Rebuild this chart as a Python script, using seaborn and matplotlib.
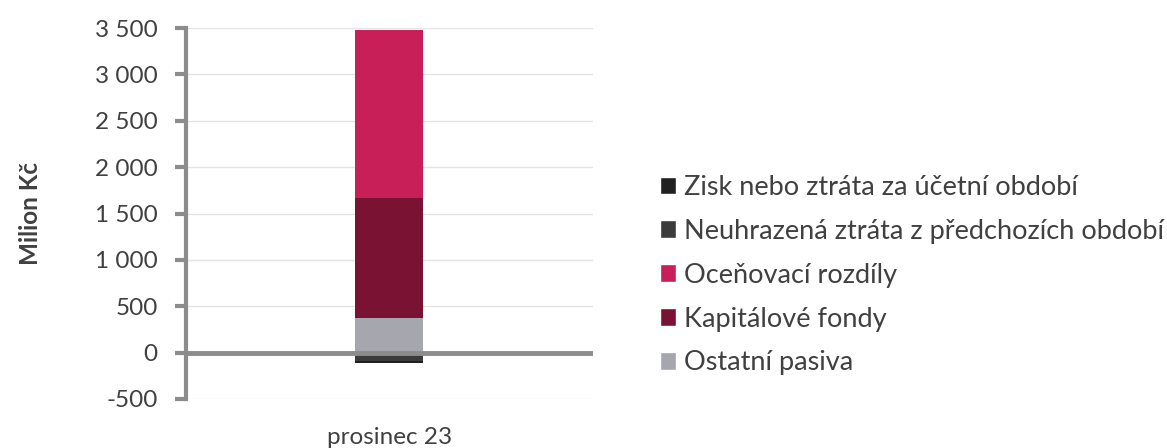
import numpy as np
import pandas as pd
import seaborn as sns
import matplotlib.pyplot as plt
from matplotlib.patches import Patch

# data (Milion Kč)
category = ["prosinec 23"]
series = ["Ostatní pasiva", "Kapitálové fondy", "Oceňovací rozdíly",
          "Neuhrazená ztráta z předchozích období", "Zisk nebo ztráta za účetní období"]
values = [370, 1300, 1810, -85, -30]
colors = ["#A6A6AE", "#7A1233", "#C81F59", "#3B3B3B", "#202020"]
yticks = [-500, 0, 500, 1000, 1500, 2000, 2500, 3000, 3500]

sns.set_style("white")
plt.rcParams['font.family'] = ['Lato', 'DejaVu Sans']

fig = plt.figure(figsize=(11.67, 4.48), dpi=100)
ax = fig.add_axes([0.159, 0.1094, 0.349, 0.828])

df = pd.DataFrame({"period": category * len(series), "series": series, "value": values})

pos_base = 0.0
neg_base = 0.0
for name, col in zip(series, colors):
    v = df.loc[df["series"] == name, "value"].iloc[0]
    base = pos_base if v >= 0 else neg_base
    sns.barplot(data=df[df["series"] == name], x="period", y="value",
                color=col, width=0.167, bottom=base, ax=ax, linewidth=0,
                saturation=1, errorbar=None, zorder=2)
    if v >= 0:
        pos_base += v
    else:
        neg_base += v

ax.set_xlim(-0.5, 0.5)
ax.set_ylim(-500, 3500)
ax.set_yticks(yticks)
ax.set_yticklabels([f"{t:,}".replace(",", " ") for t in yticks], fontsize=17.5, color="#404040")
ax.yaxis.grid(True, color="#E4E4E4", linewidth=1, zorder=0)
ax.set_axisbelow(True)
ax.tick_params(axis="y", left=True, length=8, width=3, color="#8C8C8C", pad=12)
ax.tick_params(axis="x", bottom=False, labelsize=17.5, labelcolor="#404040", pad=17)
ax.set_xlabel("")
ax.set_ylabel("Milion Kč", fontsize=17.5, fontweight="bold", color="#404040", labelpad=38)

for s in ["top", "right", "bottom"]:
    ax.spines[s].set_visible(False)
ax.spines["left"].set_color("#8C8C8C")
ax.spines["left"].set_linewidth(3)
ax.axhline(0, color="#8C8C8C", linewidth=3.5, zorder=3)

handles = [Patch(facecolor=c, label=n) for n, c in zip(series, colors)][::-1]
fig.legend(handles=handles, loc="center left", bbox_to_anchor=(0.554, 0.386),
           frameon=False, fontsize=19.5, handlelength=0.6, handleheight=0.6,
           handletextpad=0.3, labelspacing=0.7, labelcolor="#404040",
           borderpad=0)

fig.savefig("out.png", dpi=100)
